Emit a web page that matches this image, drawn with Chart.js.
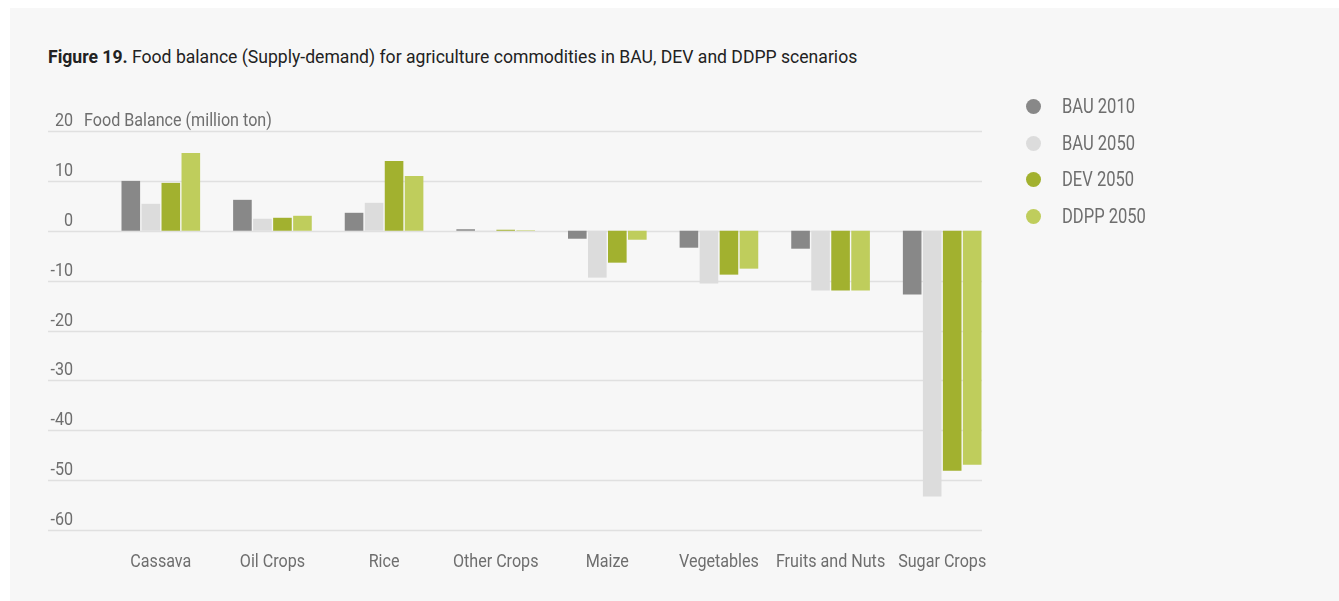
<!DOCTYPE html>
<html>
<head>
<meta charset="utf-8">
<script src="https://cdn.jsdelivr.net/npm/chart.js@4"></script>
<style>
  html, body { margin: 0; padding: 0; background: #ffffff; }
  body { width: 1339px; height: 601px; position: relative; overflow: hidden; font-family: Roboto, sans-serif; }
  .panel { position: absolute; left: 10px; top: 8px; right: 0; bottom: 0; background: #f7f7f7; }
  .title { position: absolute; left: 48px; top: 46px; font-size: 18px; color: #222; white-space: nowrap;
           transform-origin: 0 0; line-height: 22px; }
  .title b { font-weight: bold; }
  canvas { position: absolute; left: 0; top: 0; }
  .legend { position: absolute; left: 1026px; top: 96px; }
  .legend div { height: 36.7px; font-size: 19.5px; color: #6e6e6e; line-height: 22px; white-space: nowrap; position: relative; }
  .legend span.dot { position: absolute; left: 0; top: 3px; width: 15px; height: 15px; border-radius: 50%; }
  .legend span.txt { position: absolute; left: 36px; top: 0; transform-origin: 0 0; }
</style>
</head>
<body>
<div class="panel"></div>
<div class="title" id="title"><b>Figure 19.</b> Food balance (Supply-demand) for agriculture commodities in BAU, DEV and DDPP scenarios</div>
<canvas id="chart" width="1339" height="601"></canvas>
<div class="legend" id="legend"></div>
<script>
const fontFamily = 'Roboto, sans-serif';

const categories = ['Cassava', 'Oil Crops', 'Rice', 'Other Crops', 'Maize', 'Vegetables', 'Fruits and Nuts', 'Sugar Crops'];
const bau2010 = [10.0, 6.2, 3.6, 0.3, -1.6, -3.4, -3.6, -12.8];
const bau2050 = [5.4, 2.4, 5.6, 0.05, -9.4, -10.6, -12.0, -53.3];
const dev2050 = [9.6, 2.6, 14.0, 0.2, -6.4, -8.8, -12.0, -48.1];
const ddpp2050 = [15.6, 3.0, 11.0, 0.1, -1.8, -7.6, -12.0, -46.9];
const yTicks = [20, 10, 0, -10, -20, -30, -40, -50, -60];
const yTitle = 'Food Balance (million ton)';

const seriesNames = ['BAU 2010', 'BAU 2050', 'DEV 2050', 'DDPP 2050'];
const seriesColors = ['#888888', '#dcdcdc', '#a2b12f', '#bfcd5c'];
const seriesData = [bau2010, bau2050, dev2050, ddpp2050];

// the original uses a condensed face; squeeze Roboto to match
const labelFont = `19px ${fontFamily}`;
const measure = document.createElement('canvas').getContext('2d');
measure.font = labelFont;
const squeeze = 61 / measure.measureText('Cassava').width;

const titleEl = document.getElementById('title');
titleEl.style.transform = `scaleX(${809 / titleEl.offsetWidth})`;

const legendEl = document.getElementById('legend');
seriesNames.forEach((name, i) => {
  const row = document.createElement('div');
  row.innerHTML = `<span class="dot" style="background:${seriesColors[i]}"></span><span class="txt">${name}</span>`;
  legendEl.appendChild(row);
});
const legendTexts = legendEl.querySelectorAll('.txt');
const legendSqueeze = 73 / legendTexts[0].offsetWidth;
legendTexts.forEach(t => { t.style.transform = `scaleX(${legendSqueeze})`; });

function squeezedText(ctx, text, x, y, align) {
  const w = ctx.measureText(text).width * squeeze;
  let left = x;
  if (align === 'right') left = x - w;
  if (align === 'center') left = x - w / 2;
  ctx.save();
  ctx.translate(left, y);
  ctx.scale(squeeze, 1);
  ctx.textAlign = 'left';
  ctx.fillText(text, 0, 0);
  ctx.restore();
}

// gridlines and labels drawn from the y scale, labels sit above each line
const gridPlugin = {
  id: 'gridLabels',
  beforeDatasetsDraw(chart) {
    const { ctx, scales: { y } } = chart;
    ctx.save();
    ctx.strokeStyle = '#e0e0e0';
    ctx.lineWidth = 1.5;
    ctx.font = labelFont;
    ctx.fillStyle = '#6e6e6e';
    ctx.textBaseline = 'alphabetic';
    yTicks.forEach(v => {
      const py = Math.round(y.getPixelForValue(v)) + 0.5;
      ctx.beginPath();
      ctx.moveTo(48, py);
      ctx.lineTo(982, py);
      ctx.stroke();
      squeezedText(ctx, String(v), 73, py - 6, 'right');
      if (v === 20) squeezedText(ctx, yTitle, 84, py - 6, 'left');
    });
    ctx.restore();
  },
  afterDraw(chart) {
    const { ctx, scales: { x } } = chart;
    ctx.save();
    ctx.font = labelFont;
    ctx.fillStyle = '#6e6e6e';
    ctx.textBaseline = 'alphabetic';
    categories.forEach((c, i) => {
      squeezedText(ctx, c, x.getPixelForValue(i), 567, 'center');
    });
    ctx.restore();
  }
};

new Chart(document.getElementById('chart'), {
  type: 'bar',
  data: {
    labels: categories,
    datasets: seriesNames.map((name, i) => ({
      label: name,
      data: seriesData[i],
      backgroundColor: seriesColors[i],
      borderWidth: 0,
      categoryPercentage: 0.717,
      barPercentage: 0.93
    }))
  },
  options: {
    responsive: false,
    animation: false,
    layout: { padding: { left: 105, right: 341, top: 131, bottom: 71 } },
    scales: {
      x: { display: false },
      y: { display: false, min: -60, max: 20 }
    },
    plugins: {
      legend: { display: false },
      tooltip: { enabled: false }
    }
  },
  plugins: [gridPlugin]
});
</script>
</body>
</html>
